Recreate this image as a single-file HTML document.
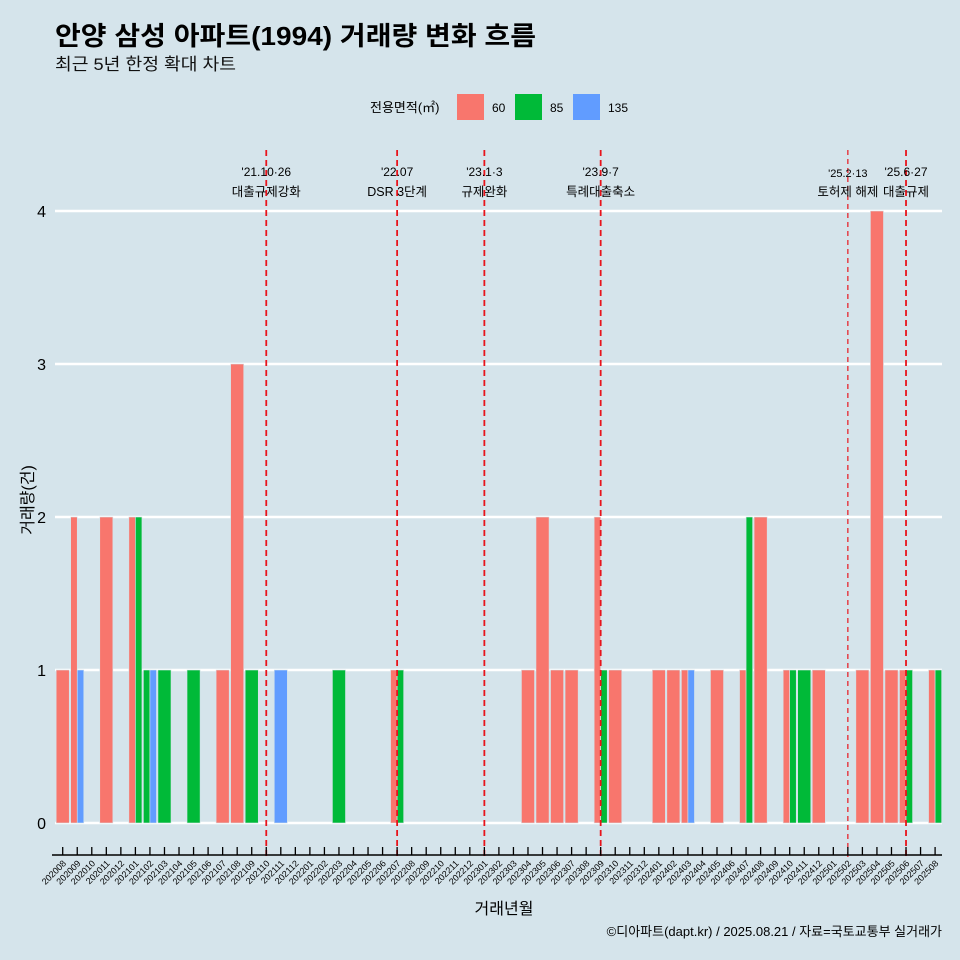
<!DOCTYPE html>
<html><head><meta charset="utf-8"><style>
body{margin:0;background:#d5e4eb;}
svg{display:block;font-family:"Liberation Sans","Noto Sans CJK KR",sans-serif;}
</style></head><body>
<svg id="c" width="960" height="960" viewBox="0 0 960 960">
<rect width="960" height="960" fill="#d5e4eb"/>
<text x="55" y="45" font-size="26" font-weight="bold" fill="#000" textLength="481" lengthAdjust="spacingAndGlyphs">안양 삼성 아파트(1994) 거래량 변화 흐름</text>
<text x="55" y="70" font-size="17" fill="#111" textLength="181" lengthAdjust="spacingAndGlyphs">최근 5년 한정 확대 차트</text>
<g>
<text x="370" y="112" font-size="13">전용면적(㎡)</text>
<rect x="457" y="94" width="27" height="26" fill="#f8766d"/>
<text x="492" y="112" font-size="12">60</text>
<rect x="515" y="94" width="27" height="26" fill="#00ba38"/>
<text x="550" y="112" font-size="12">85</text>
<rect x="573" y="94" width="27" height="26" fill="#619cff"/>
<text x="608" y="112" font-size="12">135</text>
</g>
<g id="grid"></g><g id="bars"></g><g id="vl"></g><g id="axis"></g>
<text x="504" y="914" font-size="16" text-anchor="middle">거래년월</text>
<text transform="translate(33,500) rotate(-90)" font-size="16" text-anchor="middle">거래량(건)</text>
<text x="942" y="936" font-size="13" text-anchor="end">©디아파트(dapt.kr) / 2025.08.21 / 자료=국토교통부 실거래가</text>
</svg>
<script>
const months=[];for(let y=2020,m=8;y*100+m<=202508;){months.push(String(y*100+m));m++;if(m>12){m=1;y++;}}
const areas=['60','85','135'];
const colors={'60':'#f8766d','85':'#00ba38','135':'#619cff'};
const barMonths=['202008','202009','202009','202011','202101','202101','202102','202102','202103','202105','202107','202108','202109','202111','202203','202207','202207','202304','202305','202306','202307','202309','202309','202310','202401','202402','202403','202403','202405','202407','202407','202408','202410','202410','202411','202412','202503','202504','202505','202506','202506','202508','202508'];
const barAreas=['60','60','135','60','60','85','85','135','85','85','60','60','85','135','85','60','85','60','60','60','60','60','85','60','60','60','60','135','60','60','85','60','60','85','85','60','60','60','60','60','85','60','85'];
const barValues=[1,2,1,2,2,2,1,1,1,1,1,3,1,1,1,1,1,1,2,1,1,2,1,1,1,1,1,1,1,1,2,2,1,1,1,1,1,4,1,1,1,1,1];
const yTicks=[0,1,2,3,4];
const eventMonths=['202110','202207','202301','202309','202502','202506'];
const eventDates=["'21.10·26","'22.07","'23.1·3","'23.9·7","'25.2·13","'25.6·27"];
const eventLabels=['대출규제강화','DSR 3단계','규제완화','특례대출축소','토허제 해제','대출규제'];
const NS='http://www.w3.org/2000/svg';
const X0=62.7,STEP=14.54,Y0=823,YU=153;
const xs=m=>X0+months.indexOf(m)*STEP, ys=v=>Y0-v*YU;
function mk(t,a,p){const e=document.createElementNS(NS,t);for(const k in a)e.setAttribute(k,a[k]);p.appendChild(e);return e;}
const grid=document.getElementById('grid');
yTicks.forEach(v=>{
 const l=mk('line',{x1:55,x2:942,y1:ys(v),y2:ys(v),stroke:'#fff','stroke-width':2.5},grid);
 
 
 const t=mk('text',{x:46,y:ys(v)+6,'font-size':16,'text-anchor':'end'},grid);t.textContent=v;
 
 
});
const bars=document.getElementById('bars');
const W=STEP*0.9;
months.forEach(m=>{
 const idx=[];barMonths.forEach((bm,i)=>{if(bm===m)idx.push(i);});
 const n=idx.length;
 idx.forEach((i,k)=>{
  const w=W/n,x=xs(m)-W/2+k*w;
  const r=mk('rect',{x:x,y:ys(barValues[i]),width:w,height:barValues[i]*YU,fill:colors[barAreas[i]],stroke:'#d5e4eb','stroke-width':0.6},bars);
  
  
 });
});
const vl=document.getElementById('vl');
eventMonths.forEach((m,i)=>{
 const x=xs(m),small=(m==='202502');
 const l=mk('line',{x1:x,x2:x,y1:150,y2:858,stroke:'#e8141c','stroke-width':small?1.2:1.8,'stroke-dasharray':small?'5,4':'6,4'},vl);
 
 
 const t1=mk('text',{x:x,y:small?177:176,'font-size':small?11:12,'text-anchor':'middle'},vl);t1.textContent=eventDates[i];
 
 
 const t2=mk('text',{x:x,y:196,'font-size':12.5,'text-anchor':'middle'},vl);t2.textContent=eventLabels[i];
 
 
});
const ax=document.getElementById('axis');
const al=mk('line',{x1:52,x2:942,y1:855,y2:855,stroke:'#000','stroke-width':1.5},ax);


months.forEach(m=>{
 const x=xs(m);
 const tk=mk('line',{x1:x,x2:x,y1:847,y2:855,stroke:'#000','stroke-width':1.3},ax);
 
 
 const t=mk('text',{x:x+4,y:864,'font-size':9,'text-anchor':'end',transform:'rotate(-45 '+(x+4)+' 864)'},ax);t.textContent=m;
 
 
});
</script>
</body></html>
